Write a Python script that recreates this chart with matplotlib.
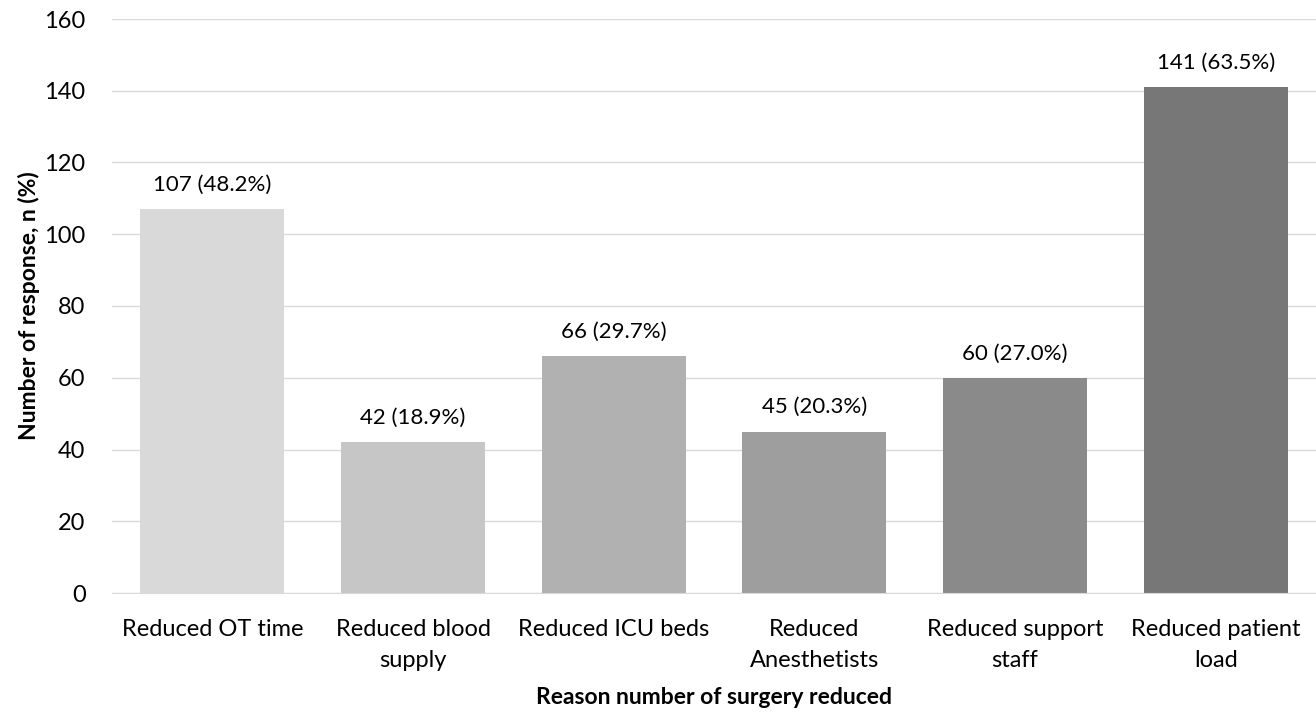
import matplotlib.pyplot as plt

categories = ['Reduced OT time', 'Reduced blood\nsupply', 'Reduced ICU beds',
              'Reduced\nAnesthetists', 'Reduced support\nstaff', 'Reduced patient\nload']
counts = [107, 42, 66, 45, 60, 141]
labels = ['107 (48.2%)', '42 (18.9%)', '66 (29.7%)', '45 (20.3%)', '60 (27.0%)', '141 (63.5%)']
colors = ['#d9d9d9', '#c6c6c6', '#b1b1b1', '#9e9e9e', '#8a8a8a', '#777777']

plt.rcParams['font.family'] = ['Lato', 'DejaVu Sans']

fig = plt.figure(figsize=(13.16, 7.14), dpi=100)
ax = fig.add_axes([112 / 1316, 1 - 593 / 714, (1316 - 112) / 1316, (593 - 19) / 714])

x = range(len(categories))
bars = ax.bar(x, counts, width=0.716, color=colors, zorder=2)

for b, lab in zip(bars, labels):
    ax.text(b.get_x() + b.get_width() / 2, b.get_height() + 4, lab,
            ha='center', va='bottom', fontsize=16, color='#000000')

ax.set_xlim(-0.5, len(categories) - 0.5)
ax.set_ylim(0, 160)
ax.set_yticks(range(0, 161, 20))
ax.set_xticks(list(x))
ax.set_xticklabels(categories, fontsize=17, linespacing=1.55)
ax.tick_params(axis='y', labelsize=17, length=0, pad=19)
ax.tick_params(axis='x', length=0, pad=19)

ax.grid(axis='y', color='#d9d9d9', linewidth=1, zorder=0)
for s in ['top', 'right', 'left']:
    ax.spines[s].set_visible(False)
ax.spines['bottom'].set_color('#d9d9d9')

ax.set_xlabel('Reason number of surgery reduced', fontsize=16.5, fontweight='bold', labelpad=12)
ax.set_ylabel('Number of response, n (%)', fontsize=16.5, fontweight='bold')
ax.yaxis.set_label_coords(-72 / 1204, 0.5)

fig.savefig('out.png', dpi=100)
